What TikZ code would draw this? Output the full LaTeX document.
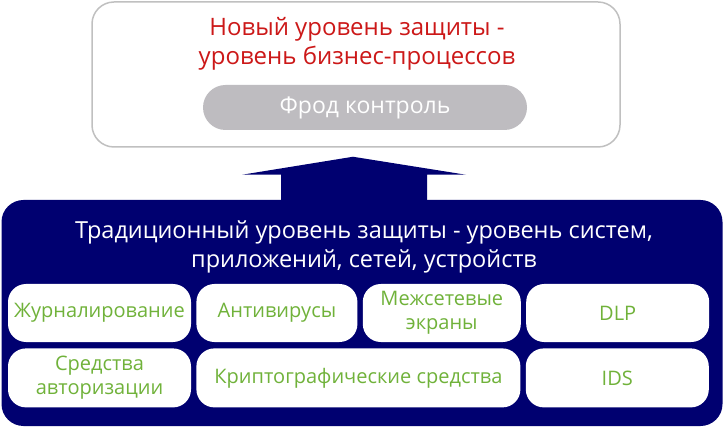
\documentclass[tikz,border=0pt]{standalone}
\usepackage{fontspec}
\setmainfont{Open Sans}
\usetikzlibrary{positioning, calc}
\definecolor{navy}{RGB}{0, 0, 112}
\definecolor{alert}{RGB}{204, 24, 24}
\definecolor{leaf}{RGB}{112, 178, 58}
\definecolor{pill}{RGB}{190, 188, 192}
\definecolor{frame}{RGB}{192, 192, 192}

\begin{document}
\begin{tikzpicture}[x=1pt, y=-1pt,
            node distance=5pt,
            toplevel/.style={rectangle, rounded corners=22pt, draw=frame, line width=1.5pt, fill=white, minimum width=528pt, minimum height=145pt, inner sep=0pt},
            baselevel/.style={rectangle, rounded corners=22pt, fill=navy, minimum width=721pt, minimum height=226pt, inner sep=0pt},
            tool/.style={rectangle, rounded corners=18pt, fill=white, minimum height=58pt, inner sep=0pt, align=center, text=leaf, font=\fontsize{20}{24}\selectfont},
            heading/.style={align=center, font=\fontsize{23.5}{29.5}\selectfont}
        ]
            \useasboundingbox (0,0) rectangle (725,427);

            % upper level
            \node[toplevel] (newlevel) at (356, 74.5) {};
            \node[heading, text=alert, font=\fontsize{24}{29}\selectfont] (newtitle) at (357, 44) {Новый уровень защиты -\\уровень бизнес-процессов};
            \node[rectangle, rounded corners=22.5pt, fill=pill, minimum width=324pt, minimum height=45pt, inner sep=0pt, text=white, font=\fontsize{23}{26}\selectfont] (fraud) at (365, 107.5) {Фрод контроль};

            % lower level
            \node[baselevel] (baselevel) at (362, 313) {};
            \node[heading, text=white] (basetitle) at (364, 247) {Традиционный уровень защиты - уровень систем,\\приложений, сетей, устройств};

            % block arrow
            \coordinate (tip) at ($(newlevel.south)+(-3, 9)$);
            \fill[navy] (tip) -- ++(113, 18) -- ++(-39, 0) -- ++(0, 30) -- ++(-146, 0) -- ++(0, -30) -- ++(-39, 0) -- cycle;

            % tools
            \node[tool, minimum width=183pt] (journal) at (99.5, 313) {Журналирование};
            \node[tool, minimum width=161pt, right=of journal] (antivirus) {Антивирусы};
            \node[tool, minimum width=158pt, right=of antivirus] (firewall) {Межсетевые\\экраны};
            \node[tool, minimum width=183pt, right=of firewall] (dlp) {DLP};
            \node[tool, minimum width=183pt, minimum height=59pt, below=6pt of journal] (auth) {Средства\\авторизации};
            \node[tool, minimum width=324pt, minimum height=59pt, right=of auth] (crypto) {Криптографические средства};
            \node[tool, minimum width=183pt, minimum height=59pt, right=of crypto] (ids) {IDS};
        \end{tikzpicture}
\end{document}
